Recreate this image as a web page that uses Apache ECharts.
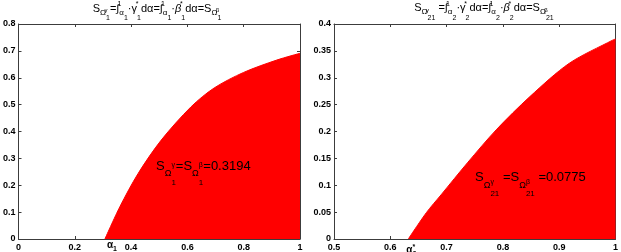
<!DOCTYPE html>
<html><head><meta charset="utf-8">
<script src="https://cdn.jsdelivr.net/npm/echarts@6/dist/echarts.min.js"></script>
<style>html,body{margin:0;padding:0;background:#fff}#c{width:621px;height:252px}</style>
</head><body><div id="c"></div>
<script>
// ---- data ----
const alpha1 = [0.307, 0.36, 0.425, 0.507, 0.613, 0.695, 0.8, 0.918, 1.0];
const curve1 = [0, 0.120, 0.244, 0.368, 0.492, 0.562, 0.620, 0.666, 0.691];
const alpha2 = [0.632, 0.664, 0.690, 0.738, 0.788, 0.848, 0.918, 0.995, 1.0];
const curve2 = [0, 0.049, 0.082, 0.143, 0.203, 0.265, 0.327, 0.370, 0.372];
const xTicks1 = [0, 0.2, 0.4, 0.6, 0.8, 1];
const yTicks1 = [0, 0.1, 0.2, 0.3, 0.4, 0.5, 0.6, 0.7, 0.8];
const xTicks2 = [0.5, 0.6, 0.7, 0.8, 0.9, 1];
const yTicks2 = [0, 0.05, 0.1, 0.15, 0.2, 0.25, 0.3, 0.35, 0.4];
const areaValue1 = '0.3194';
const areaValue2 = '0.0775';

const FONT = 'Liberation Sans, Arial, Helvetica, sans-serif';
const AX = '#3c3c3c';

function rt(parts){ return parts.map(p => '{' + p[0] + '|' + p[1] + '}').join(''); }
function st(size, shift, extra){
  return Object.assign({fontSize:size, fontFamily:FONT, fill:'#000',
    padding: shift >= 0 ? [2*shift,0,0,0] : [0,0,-2*shift,0]}, extra || {});
}

function axes(gi, ticks, dir, pos){
  const step = +(ticks[1]-ticks[0]).toFixed(4);
  const isX = dir === 'x';
  const main = (pos === 'bottom' || pos === 'left');
  return {
    type:'value', gridIndex:gi, position:pos,
    min:ticks[0], max:ticks[ticks.length-1], interval:step,
    axisLine:{show:true, onZero:false, lineStyle:{color:AX, width:1}},
    axisTick:{show:true, inside:true, length:3, lineStyle:{color:AX}},
    axisLabel:{show:main, color:'#000', fontFamily:FONT, fontWeight:'bold', fontSize:9,
      margin: isX ? 4 : 3},
    splitLine:{show:false}
  };
}

const grids = [
  {left:16, top:24, width:284, height:215},
  {left:334, top:24, width:282, height:215}
];

const xAxes = [axes(0,xTicks1,'x','bottom'), axes(1,xTicks2,'x','bottom'),
               axes(0,xTicks1,'x','top'), axes(1,xTicks2,'x','top')];
const yAxes = [axes(0,yTicks1,'y','left'), axes(1,yTicks2,'y','left'),
               axes(0,yTicks1,'y','right'), axes(1,yTicks2,'y','right')];

function areaSeries(xi, xs, ys){
  return {type:'line', xAxisIndex:xi, yAxisIndex:xi, data: xs.map((x,i)=>[x, ys[i]]),
    smooth:0.3, symbol:'none', z:3,
    lineStyle:{color:'#ff0000', width:1}, areaStyle:{color:'#ff0000', opacity:1}};
}

// title rich styles
const tRich = {
  m: st(11,0), mi: st(11,0,{fontStyle:'italic'}),
  a: st(8,4), b: st(7,10), u0: st(7,-4,{width:0}), g0: st(6,2,{width:0})
};
const title1 = rt([['m','S'],['a','Ω'],['g0','γ'],['b','1'],['m','=∫'],['u0','1'],['a','α'],['b','1'],
  ['m','·γ'],['u0','*'],['b','1'],['m','dα=∫'],['u0','1'],['a','α'],['b','1'],['m','·'],['mi','β'],['u0','*'],['b','1'],
  ['m','dα=S'],['a','Ω'],['g0','β'],['b','1']]);
const title2 = rt([['m','S'],['a','Ω'],['g0','γ'],['b','21'],['m',' =∫'],['u0','1'],['a','α'],['b','2'],
  ['m','·γ'],['u0','*'],['b','2'],['m','dα=∫'],['u0','1'],['a','α'],['b','2'],['m','·'],['mi','β'],['u0','*'],['b','2'],
  ['m','dα=S'],['a','Ω'],['g0','β'],['b','21']]);

const a1Rich = { m: st(13,0), a: st(9,8), g0: st(7,-1,{width:0}), b: st(8,17) };
const a2Rich = { m: st(13,0), a: st(9,9), g0: st(7,5,{width:0}), b: st(8,17) };
const ann1 = rt([['m','S'],['a','Ω'],['g0','γ'],['b','1'],['m','=S'],['a','Ω'],['g0','β'],['b','1'],['m','='+areaValue1]]);
const ann2 = rt([['m','S'],['a','Ω'],['g0','γ'],['b','21'],['m',' =S'],['a','Ω'],['g0','β'],['b','21'],['m',' ='+areaValue2]]);

const chart = echarts.init(document.getElementById('c'), null, {renderer:'canvas'});
chart.setOption({
  animation:false,
  grid: grids,
  xAxis: xAxes,
  yAxis: yAxes,
  series: [areaSeries(0, alpha1, curve1), areaSeries(1, alpha2, curve2)]
});

// alpha markers under the x axes, placed at the start of each filled region
const p1 = chart.convertToPixel({gridIndex:0}, [alpha1[0], 0]);
const p2 = chart.convertToPixel({gridIndex:1}, [alpha2[0], 0]);
const aRich = { m: st(10,0,{fontWeight:'bold'}), b: st(7,4,{fontWeight:'bold'}), u0: st(7,-3,{width:0,fontWeight:'bold'}) };
chart.setOption({graphic: [
  {type:'text', x:157, y:8.5, z:10, style:{text:title1, rich:tRich, align:'center', verticalAlign:'middle', font:'11px '+FONT}},
  {type:'text', x:484, y:8, z:10, style:{text:title2, rich:tRich, align:'center', verticalAlign:'middle', font:'11px '+FONT}},
  {type:'text', x:156, y:166, z:10, style:{text:ann1, rich:a1Rich, align:'left', verticalAlign:'middle', font:'13px '+FONT}},
  {type:'text', x:475, y:177, z:10, style:{text:ann2, rich:a2Rich, align:'left', verticalAlign:'middle', font:'13px '+FONT}},
  {type:'text', x:p1[0]+2, y:p1[1]+6, z:10, style:{text:rt([['m','α'],['b','1']]), rich:aRich, align:'left', verticalAlign:'middle'}},
  {type:'text', x:p2[0]-2, y:p2[1]+11, z:10, style:{text:rt([['m','α'],['u0','*'],['b','2']]), rich:aRich, align:'left', verticalAlign:'middle'}}
]});
</script>
</body></html>
